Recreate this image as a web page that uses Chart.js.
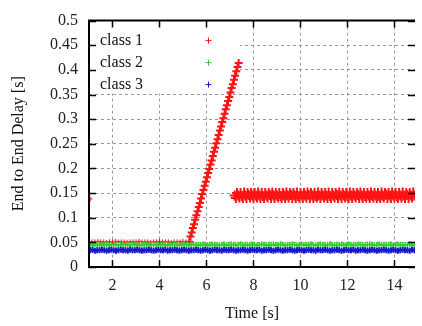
<!DOCTYPE html>
<html>
<head>
<meta charset="utf-8">
<script src="https://cdn.jsdelivr.net/npm/chart.js"></script>
<title>End to End Delay</title>
<style>
  html, body { margin: 0; padding: 0; background: #fff; }
</style>
</head>
<body>
<canvas id="chart" width="422" height="326"></canvas>
<script>
const xTicks = [2, 4, 6, 8, 10, 12, 14];
const yTicks = [0, 0.05, 0.1, 0.15, 0.2, 0.25, 0.3, 0.35, 0.4, 0.45, 0.5];
const legendLabels = ['class 1', 'class 2', 'class 3'];
const classColors = ['#ff1414', '#33cc33', '#1616cc'];

// class 1, early phase (one outlier at the start)
const class1EarlyTime = [
  1.05,
  1.125, 1.25, 1.375, 1.5, 1.625, 1.75, 1.875, 2, 2.125, 2.25, 2.375, 2.5, 2.625, 2.75, 2.875, 3,
  3.125, 3.25, 3.375, 3.5, 3.625, 3.75, 3.875, 4, 4.125, 4.25, 4.375, 4.5, 4.625, 4.75, 4.875, 5, 5.125
];
const class1EarlyDelay = [
  0.138,
  0.051, 0.051, 0.052, 0.051, 0.051, 0.050, 0.051, 0.051, 0.052, 0.051, 0.051, 0.051, 0.050, 0.051, 0.051, 0.051,
  0.052, 0.051, 0.051, 0.051, 0.050, 0.051, 0.051, 0.052, 0.051, 0.051, 0.051, 0.050, 0.051, 0.051, 0.051, 0.052, 0.051
];

// class 1, queue build-up
const class1RampTime = [
  5.27, 5.32, 5.37, 5.42, 5.47, 5.52, 5.57, 5.62, 5.67, 5.72, 5.77, 5.82, 5.87, 5.92, 5.97,
  6.02, 6.07, 6.12, 6.17, 6.22, 6.27, 6.32, 6.37, 6.42, 6.47, 6.52, 6.57, 6.62, 6.67, 6.72,
  6.77, 6.82, 6.87, 6.92, 6.97, 7.02, 7.07, 7.12, 7.17, 7.22, 7.27, 7.32, 7.37
];
const class1RampDelay = [
  0.051, 0.062, 0.070, 0.079, 0.087, 0.096, 0.105, 0.113, 0.122, 0.130, 0.139, 0.148, 0.156, 0.165, 0.173,
  0.182, 0.191, 0.199, 0.208, 0.216, 0.225, 0.234, 0.242, 0.251, 0.259, 0.268, 0.277, 0.285, 0.294, 0.302,
  0.311, 0.320, 0.328, 0.337, 0.345, 0.354, 0.363, 0.371, 0.380, 0.388, 0.397, 0.406, 0.414
];

// class 1, plateau after the queue limit
const class1PlateauTime = [
  7.20, 7.25, 7.30, 7.35, 7.40, 7.45, 7.50, 7.55, 7.60, 7.65, 7.70, 7.75, 7.80, 7.85, 7.90, 7.95,
  8.00, 8.05, 8.10, 8.15, 8.20, 8.25, 8.30, 8.35, 8.40, 8.45, 8.50, 8.55, 8.60, 8.65, 8.70, 8.75, 8.80, 8.85, 8.90, 8.95,
  9.00, 9.05, 9.10, 9.15, 9.20, 9.25, 9.30, 9.35, 9.40, 9.45, 9.50, 9.55, 9.60, 9.65, 9.70, 9.75, 9.80, 9.85, 9.90, 9.95,
  10.00, 10.05, 10.10, 10.15, 10.20, 10.25, 10.30, 10.35, 10.40, 10.45, 10.50, 10.55, 10.60, 10.65, 10.70, 10.75, 10.80, 10.85, 10.90, 10.95,
  11.00, 11.05, 11.10, 11.15, 11.20, 11.25, 11.30, 11.35, 11.40, 11.45, 11.50, 11.55, 11.60, 11.65, 11.70, 11.75, 11.80, 11.85, 11.90, 11.95,
  12.00, 12.05, 12.10, 12.15, 12.20, 12.25, 12.30, 12.35, 12.40, 12.45, 12.50, 12.55, 12.60, 12.65, 12.70, 12.75, 12.80, 12.85, 12.90, 12.95,
  13.00, 13.05, 13.10, 13.15, 13.20, 13.25, 13.30, 13.35, 13.40, 13.45, 13.50, 13.55, 13.60, 13.65, 13.70, 13.75, 13.80, 13.85, 13.90, 13.95,
  14.00, 14.05, 14.10, 14.15, 14.20, 14.25, 14.30, 14.35, 14.40, 14.45, 14.50, 14.55, 14.60, 14.65, 14.70, 14.75, 14.80, 14.85
];
const class1PlateauDelay = [
  0.145, 0.140, 0.150, 0.145, 0.141, 0.150, 0.144, 0.140, 0.151, 0.145, 0.140, 0.150, 0.146, 0.141, 0.150, 0.145,
  0.140, 0.150, 0.145, 0.141, 0.151, 0.145, 0.140, 0.150, 0.144, 0.140, 0.150, 0.145, 0.141, 0.150, 0.146, 0.140, 0.151, 0.145, 0.140, 0.150,
  0.145, 0.141, 0.150, 0.144, 0.140, 0.150, 0.145, 0.140, 0.151, 0.145, 0.141, 0.150, 0.146, 0.140, 0.150, 0.145, 0.140, 0.151, 0.144, 0.141,
  0.150, 0.145, 0.140, 0.150, 0.145, 0.141, 0.151, 0.146, 0.140, 0.150, 0.145, 0.140, 0.150, 0.144, 0.141, 0.151, 0.145, 0.140, 0.150, 0.145,
  0.141, 0.150, 0.145, 0.140, 0.151, 0.144, 0.140, 0.150, 0.145, 0.141, 0.150, 0.146, 0.140, 0.151, 0.145, 0.140, 0.150, 0.145, 0.141, 0.150,
  0.144, 0.140, 0.151, 0.145, 0.140, 0.150, 0.145, 0.141, 0.150, 0.146, 0.140, 0.151, 0.145, 0.140, 0.150, 0.144, 0.141, 0.150, 0.145, 0.140,
  0.151, 0.145, 0.141, 0.150, 0.145, 0.140, 0.150, 0.144, 0.140, 0.151, 0.145, 0.141, 0.150, 0.146, 0.140, 0.150, 0.145, 0.140, 0.151, 0.145,
  0.141, 0.150, 0.144, 0.140, 0.150, 0.145, 0.141, 0.151, 0.145, 0.140, 0.150, 0.146, 0.140, 0.150, 0.145, 0.141, 0.151, 0.145
];

// classes 2 and 3 share the same sample times
const sampleTime = [
  1.05, 1.15, 1.25, 1.35, 1.45, 1.55, 1.65, 1.75, 1.85, 1.95,
  2.05, 2.15, 2.25, 2.35, 2.45, 2.55, 2.65, 2.75, 2.85, 2.95,
  3.05, 3.15, 3.25, 3.35, 3.45, 3.55, 3.65, 3.75, 3.85, 3.95,
  4.05, 4.15, 4.25, 4.35, 4.45, 4.55, 4.65, 4.75, 4.85, 4.95,
  5.05, 5.15, 5.25, 5.35, 5.45, 5.55, 5.65, 5.75, 5.85, 5.95,
  6.05, 6.15, 6.25, 6.35, 6.45, 6.55, 6.65, 6.75, 6.85, 6.95,
  7.05, 7.15, 7.25, 7.35, 7.45, 7.55, 7.65, 7.75, 7.85, 7.95,
  8.05, 8.15, 8.25, 8.35, 8.45, 8.55, 8.65, 8.75, 8.85, 8.95,
  9.05, 9.15, 9.25, 9.35, 9.45, 9.55, 9.65, 9.75, 9.85, 9.95,
  10.05, 10.15, 10.25, 10.35, 10.45, 10.55, 10.65, 10.75, 10.85, 10.95,
  11.05, 11.15, 11.25, 11.35, 11.45, 11.55, 11.65, 11.75, 11.85, 11.95,
  12.05, 12.15, 12.25, 12.35, 12.45, 12.55, 12.65, 12.75, 12.85, 12.95,
  13.05, 13.15, 13.25, 13.35, 13.45, 13.55, 13.65, 13.75, 13.85, 13.95,
  14.05, 14.15, 14.25, 14.35, 14.45, 14.55, 14.65, 14.75, 14.85
];
const class2Delay = [
  0.045, 0.044, 0.046, 0.045, 0.045, 0.044, 0.046, 0.045, 0.044, 0.045,
  0.046, 0.045, 0.044, 0.045, 0.046, 0.045, 0.045, 0.044, 0.045, 0.046,
  0.045, 0.044, 0.045, 0.046, 0.045, 0.044, 0.045, 0.045, 0.046, 0.044,
  0.045, 0.046, 0.045, 0.044, 0.045, 0.045, 0.046, 0.045, 0.044, 0.045,
  0.046, 0.045, 0.044, 0.045, 0.046, 0.045, 0.044, 0.045, 0.046, 0.045,
  0.044, 0.045, 0.046, 0.045, 0.044, 0.045, 0.045, 0.046, 0.044, 0.045,
  0.046, 0.045, 0.044, 0.045, 0.046, 0.045, 0.045, 0.044, 0.045, 0.046,
  0.045, 0.044, 0.045, 0.046, 0.045, 0.044, 0.045, 0.045, 0.046, 0.044,
  0.045, 0.046, 0.045, 0.044, 0.045, 0.045, 0.046, 0.045, 0.044, 0.045,
  0.046, 0.045, 0.044, 0.045, 0.046, 0.045, 0.044, 0.045, 0.046, 0.045,
  0.044, 0.045, 0.046, 0.045, 0.044, 0.045, 0.045, 0.046, 0.044, 0.045,
  0.046, 0.045, 0.044, 0.045, 0.046, 0.045, 0.045, 0.044, 0.045, 0.046,
  0.045, 0.044, 0.045, 0.046, 0.045, 0.044, 0.045, 0.045, 0.046, 0.044,
  0.045, 0.046, 0.045, 0.044, 0.045, 0.045, 0.046, 0.045, 0.044
];
const class3Delay = [
  0.034, 0.035, 0.033, 0.034, 0.034, 0.035, 0.034, 0.033, 0.034, 0.035,
  0.034, 0.033, 0.034, 0.035, 0.034, 0.034, 0.033, 0.035, 0.034, 0.034,
  0.035, 0.034, 0.033, 0.034, 0.034, 0.035, 0.034, 0.033, 0.034, 0.035,
  0.034, 0.034, 0.035, 0.033, 0.034, 0.034, 0.035, 0.034, 0.033, 0.034,
  0.035, 0.034, 0.033, 0.034, 0.034, 0.035, 0.034, 0.033, 0.034, 0.035,
  0.034, 0.033, 0.034, 0.035, 0.034, 0.034, 0.033, 0.035, 0.034, 0.034,
  0.035, 0.034, 0.033, 0.034, 0.034, 0.035, 0.034, 0.033, 0.034, 0.035,
  0.034, 0.034, 0.035, 0.033, 0.034, 0.034, 0.035, 0.034, 0.033, 0.034,
  0.035, 0.034, 0.033, 0.034, 0.034, 0.035, 0.034, 0.033, 0.034, 0.035,
  0.034, 0.033, 0.034, 0.035, 0.034, 0.034, 0.033, 0.035, 0.034, 0.034,
  0.035, 0.034, 0.033, 0.034, 0.034, 0.035, 0.034, 0.033, 0.034, 0.035,
  0.034, 0.034, 0.035, 0.033, 0.034, 0.034, 0.035, 0.034, 0.033, 0.034,
  0.035, 0.034, 0.033, 0.034, 0.034, 0.035, 0.034, 0.033, 0.034, 0.035,
  0.034, 0.033, 0.034, 0.035, 0.034, 0.034, 0.033, 0.035, 0.034
];

const serif = "'Liberation Serif', 'DejaVu Serif', serif";

function toPoints(xs, ys) {
  return xs.map((x, i) => ({ x: x, y: ys[i] }));
}

function crossSet(label, xs, ys, color, radius, width, order) {
  return {
    label: label,
    data: toPoints(xs, ys),
    borderColor: color,
    backgroundColor: color,
    pointStyle: 'cross',
    pointRadius: radius,
    pointBorderWidth: width,
    order: order
  };
}

// gnuplot-style frame with inward ticks, plus the key box in the top left corner
const framePlugin = {
  id: 'frame',
  beforeDatasetsDraw(chart) {
    const { ctx, chartArea: a } = chart;
    ctx.save();
    ctx.fillStyle = '#fff';
    ctx.fillRect(a.left, a.top, 151, 73);
    ctx.restore();
  },
  afterDraw(chart) {
    const { ctx, chartArea: a, scales } = chart;
    ctx.save();

    // key
    ctx.font = '16px ' + serif;
    ctx.fillStyle = '#111';
    ctx.textBaseline = 'middle';
    legendLabels.forEach((label, i) => {
      const ly = a.top + 20 + i * 22;
      ctx.fillText(label, a.left + 11, ly);
      ctx.strokeStyle = classColors[i];
      ctx.lineWidth = 1;
      ctx.beginPath();
      ctx.moveTo(a.left + 119.5, ly - 3); ctx.lineTo(a.left + 119.5, ly + 3);
      ctx.moveTo(a.left + 116.5, ly); ctx.lineTo(a.left + 122.5, ly);
      ctx.stroke();
    });

    // frame
    ctx.strokeStyle = '#000';
    ctx.lineWidth = 2;
    ctx.beginPath();
    ctx.moveTo(a.right, a.top);
    ctx.lineTo(a.left, a.top);
    ctx.lineTo(a.left, a.bottom);
    ctx.lineTo(a.right, a.bottom);
    ctx.stroke();

    // ticks on all four sides, pointing in
    ctx.lineWidth = 1.5;
    ctx.beginPath();
    xTicks.forEach(v => {
      const px = Math.round(scales.x.getPixelForValue(v)) + 0.5;
      ctx.moveTo(px, a.bottom); ctx.lineTo(px, a.bottom - 7);
      ctx.moveTo(px, a.top); ctx.lineTo(px, a.top + 7);
    });
    yTicks.forEach(v => {
      const py = Math.round(scales.y.getPixelForValue(v)) + 0.5;
      ctx.moveTo(a.left, py); ctx.lineTo(a.left + 7, py);
      ctx.moveTo(a.right, py); ctx.lineTo(a.right - 7, py);
    });
    ctx.stroke();
    ctx.restore();
  }
};

const ctx = document.getElementById('chart').getContext('2d');

new Chart(ctx, {
  type: 'scatter',
  data: {
    datasets: [
      crossSet(legendLabels[0], class1EarlyTime, class1EarlyDelay, classColors[0], 2.5, 1, 5),
      crossSet(legendLabels[0], class1RampTime, class1RampDelay, classColors[0], 4, 2, 4),
      crossSet(legendLabels[0], class1PlateauTime, class1PlateauDelay, classColors[0], 5, 2, 3),
      crossSet(legendLabels[1], sampleTime, class2Delay, classColors[1], 3, 1.5, 1),
      crossSet(legendLabels[2], sampleTime, class3Delay, classColors[2], 3, 2, 0)
    ]
  },
  options: {
    responsive: false,
    animation: false,
    layout: { padding: { top: 13, right: 0, bottom: 0, left: 0 } },
    plugins: {
      legend: { display: false },
      tooltip: { enabled: false }
    },
    scales: {
      x: {
        type: 'linear',
        min: 1,
        max: 14.875,
        afterBuildTicks: s => { s.ticks = xTicks.map(v => ({ value: v })); },
        afterFit: s => { s.height = 59; },
        grid: { color: '#999', lineWidth: 1, drawTicks: false },
        border: { display: false, dash: [3, 3] },
        ticks: { color: '#222', padding: 9, font: { family: serif, size: 16 } },
        title: {
          display: true,
          text: 'Time [s]',
          color: '#111',
          padding: { top: 0, bottom: 3 },
          font: { family: serif, size: 16 }
        }
      },
      y: {
        type: 'linear',
        min: 0,
        max: 0.5,
        afterBuildTicks: s => { s.ticks = yTicks.map(v => ({ value: v })); },
        afterFit: s => { s.width = 89; },
        grid: { color: '#999', lineWidth: 1, drawTicks: false },
        border: { display: false, dash: [3, 3] },
        ticks: {
          color: '#222',
          padding: 11,
          font: { family: serif, size: 16 },
          callback: v => String(Number(v.toFixed(2)))
        },
        title: {
          display: true,
          text: 'End to End Delay [s]',
          color: '#111',
          padding: { top: 9, bottom: 0 },
          font: { family: serif, size: 16 }
        }
      }
    }
  },
  plugins: [framePlugin]
});
</script>
</body>
</html>
